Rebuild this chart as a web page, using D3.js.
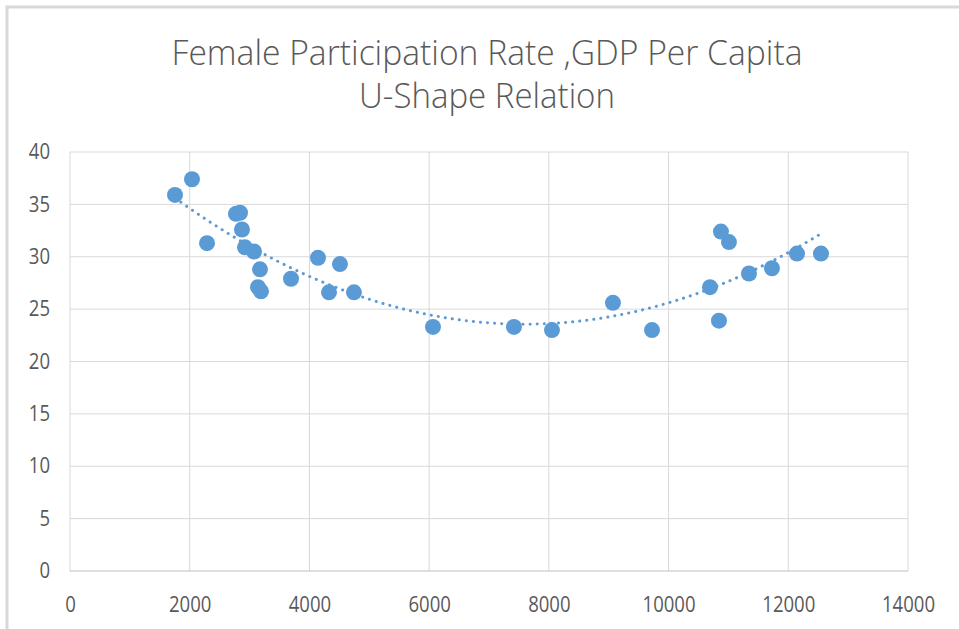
<!DOCTYPE html>
<html>
<head>
<meta charset="utf-8">
<script src="https://cdn.jsdelivr.net/npm/d3@7"></script>
<style>
  body { margin: 0; background: #fff; }
  svg text { font-family: "Open Sans", "DejaVu Sans", sans-serif; fill: #595959; }
</style>
</head>
<body>
<svg id="chart" width="959" height="629"></svg>
<script>
// GDP per capita (x) and female participation rate (y)
var gdpPerCapita = [1754, 2038, 2289, 2773, 2840, 2873, 2923, 3074, 3174, 3141, 3191, 3692, 4143, 4327, 4510, 4744,
  6064, 7417, 8052, 9071, 9723, 10692, 10842, 10875, 11009, 11343, 11727, 12145, 12546]
var participation = [35.9, 37.4, 31.3, 34.1, 34.2, 32.6, 30.9, 30.5, 28.8, 27.1, 26.7, 27.9, 29.9, 26.6, 29.3, 26.6,
  23.3, 23.3, 23.0, 25.6, 23.0, 27.1, 23.9, 32.4, 31.4, 28.4, 28.9, 30.3, 30.3]
var xTicks = [0, 2000, 4000, 6000, 8000, 10000, 12000, 14000]
var yTicks = [0, 5, 10, 15, 20, 25, 30, 35, 40]
var titleLines = ['Female Participation Rate ,GDP Per Capita', 'U-Shape Relation']

var svg = d3.select('#chart')

// outer frame (top and left edges only visible)
svg.append('path')
  .attr('d', 'M7,629 V7 H959')
  .attr('fill', 'none')
  .attr('stroke', '#d9d9d9')
  .attr('stroke-width', 3)

var x = d3.scaleLinear().domain([0, 14000]).range([70, 908])
var y = d3.scaleLinear().domain([0, 40]).range([571, 152])

// grid
svg.append('g').selectAll('line')
  .data(yTicks.slice(1))
  .enter().append('line')
  .attr('x1', x(0)).attr('x2', x(14000))
  .attr('y1', function (d) { return y(d) }).attr('y2', function (d) { return y(d) })
  .attr('stroke', '#d9d9d9').attr('stroke-width', 1)

svg.append('g').selectAll('line')
  .data(xTicks)
  .enter().append('line')
  .attr('y1', y(0)).attr('y2', y(40))
  .attr('x1', function (d) { return x(d) }).attr('x2', function (d) { return x(d) })
  .attr('stroke', '#d9d9d9').attr('stroke-width', 1)

svg.append('line')
  .attr('x1', x(0)).attr('x2', x(14000))
  .attr('y1', y(0)).attr('y2', y(0))
  .attr('stroke', '#bfbfbf').attr('stroke-width', 1)

// axes labels (narrow, tall digits like the original)
var xAxis = d3.axisBottom(x).tickValues(xTicks).tickSize(0).tickPadding(26).tickFormat(d3.format('d'))
var xg = svg.append('g').attr('transform', 'translate(0,' + y(0) + ')').call(xAxis)
xg.select('.domain').remove()
xg.selectAll('text').style('font-size', '21px').attr('fill', '#595959')
  .attr('textLength', function (d) { return String(d).length * 10.6 })
  .attr('lengthAdjust', 'spacingAndGlyphs')

var yAxis = d3.axisLeft(y).tickValues(yTicks).tickSize(0).tickPadding(20)
var yg = svg.append('g').attr('transform', 'translate(' + x(0) + ',0)').call(yAxis)
yg.select('.domain').remove()
yg.selectAll('text').style('font-size', '21px').attr('fill', '#595959')
  .attr('textLength', function (d) { return String(d).length * 10.6 })
  .attr('lengthAdjust', 'spacingAndGlyphs')

// quadratic trendline (least squares from the data)
function quadFit(xs, ys) {
  var n = xs.length, s = [0, 0, 0, 0, 0], t = [0, 0, 0]
  for (var i = 0; i < n; i++) {
    var xi = xs[i] / 1000, p = 1
    for (var k = 0; k < 5; k++) { s[k] += p; if (k < 3) t[k] += p * ys[i]; p *= xi }
  }
  var m = [[s[0], s[1], s[2], t[0]], [s[1], s[2], s[3], t[1]], [s[2], s[3], s[4], t[2]]]
  for (var c = 0; c < 3; c++) {
    for (var r = c + 1; r < 3; r++) {
      var f = m[r][c] / m[c][c]
      for (var j = c; j < 4; j++) m[r][j] -= f * m[c][j]
    }
  }
  var b = [0, 0, 0]
  for (var r2 = 2; r2 >= 0; r2--) {
    var v = m[r2][3]
    for (var j2 = r2 + 1; j2 < 3; j2++) v -= m[r2][j2] * b[j2]
    b[r2] = v / m[r2][r2]
  }
  return function (xv) { var u = xv / 1000; return b[0] + b[1] * u + b[2] * u * u }
}
var fit = quadFit(gdpPerCapita, participation)
var xMin = d3.min(gdpPerCapita), xMax = d3.max(gdpPerCapita)
var trendPts = d3.range(0, 101).map(function (i) { var xv = xMin + (xMax - xMin) * i / 100; return [xv, fit(xv)] })

svg.append('path')
  .datum(trendPts)
  .attr('d', d3.line().x(function (d) { return x(d[0]) }).y(function (d) { return y(d[1]) }))
  .attr('fill', 'none')
  .attr('stroke', '#5b9bd5')
  .attr('stroke-width', 3)
  .attr('stroke-linecap', 'round')
  .attr('stroke-dasharray', '0.1,7')

// points
svg.append('g').selectAll('circle')
  .data(gdpPerCapita)
  .enter().append('circle')
  .attr('cx', function (d) { return x(d) })
  .attr('cy', function (d, i) { return y(participation[i]) })
  .attr('r', 8)
  .attr('fill', '#5b9bd5')

// title
var titleWidths = [631, 256]
svg.append('g').selectAll('text')
  .data(titleLines)
  .enter().append('text')
  .attr('x', 487)
  .attr('y', function (d, i) { return 65 + i * 43 })
  .attr('text-anchor', 'middle')
  .style('font-size', '34px')
  .style('font-weight', 300)
  .attr('textLength', function (d, i) { return titleWidths[i] })
  .attr('lengthAdjust', 'spacingAndGlyphs')
  .text(function (d) { return d })
</script>
</body>
</html>
